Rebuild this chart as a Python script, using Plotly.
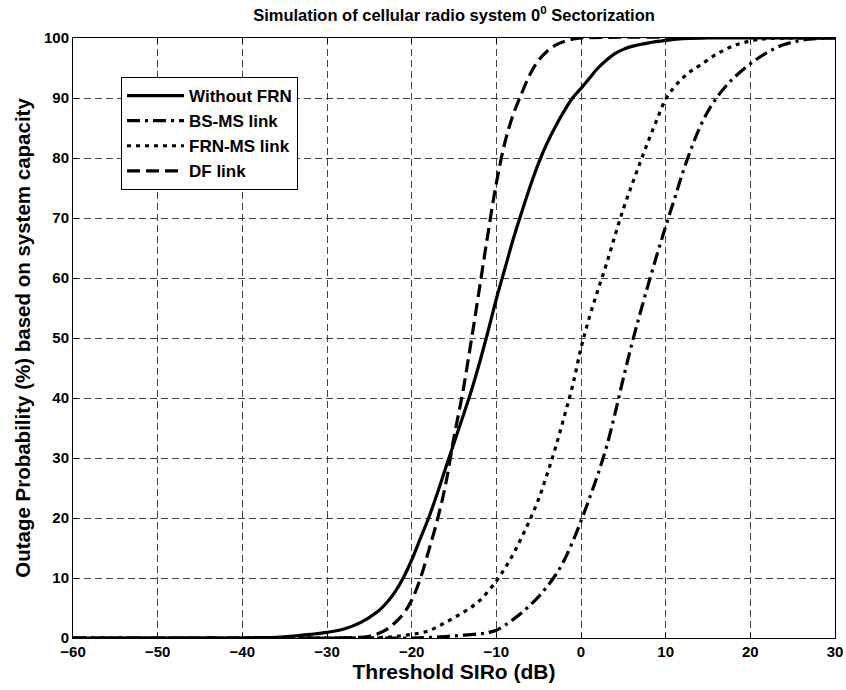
import plotly.graph_objects as go

# Threshold SIRo (dB) vs outage probability (%) for each link type
x_without_frn = [-60, -50, -40, -38, -36, -34, -32, -30, -28, -26, -24, -23, -22, -21, -20,
                 -19, -18, -17, -16, -15, -14, -13, -12, -11, -10, -9, -8, -7, -6, -5,
                 -4, -3, -2, -1, 0, 1, 2, 3, 4, 5, 6, 8, 10, 12, 15, 30]
y_without_frn = [0, 0, 0, 0.05, 0.1, 0.3, 0.6, 0.95, 1.5, 2.6, 4.4, 5.8, 7.6, 10, 13,
                 16.5, 20, 24, 28.3, 32.5, 36.7, 41, 45.8, 51, 56.5, 61.5, 66.5, 71, 75.3, 79.2,
                 82.5, 85.3, 87.8, 90, 91.6, 93.3, 95, 96.3, 97.4, 98.1, 98.6, 99.2, 99.6, 99.9, 100, 100]

x_bs_ms = [-60, -30, -20, -18, -16, -14, -12, -11, -10, -9, -8, -7, -6, -5, -4, -3, -2, -1,
           0, 1, 2, 3, 4, 5, 6, 7, 8, 9, 10, 11, 12, 13, 14, 15, 16, 17, 18, 20, 22, 24,
           26, 28, 30]
y_bs_ms = [0, 0, 0, 0.1, 0.25, 0.45, 0.7, 0.9, 1.3, 2.1, 3.1, 4.2, 5.5, 6.9, 8.6, 10.5, 12.9, 16,
           19.5, 23.3, 27.3, 31.8, 37.3, 43.3, 49, 54.2, 59.2, 64, 68.6, 73, 77.5, 81.5, 85, 87.8,
           90, 91.8, 93.3, 95.7, 97.6, 98.9, 99.6, 99.9, 100]

x_frn_ms = [-60, -30, -24, -22, -20, -18, -16, -14, -12, -10, -9, -8, -7, -6, -5, -4, -3,
            -2, -1, 0, 1, 2, 3, 4, 5, 6, 7, 8, 9, 10, 11, 12, 13, 14, 16, 18, 20, 22, 25, 30]
y_frn_ms = [0, 0, 0.05, 0.25, 0.6, 1.2, 2.6, 4.2, 6.2, 9.5, 11.6, 14, 16.8, 19.8, 23.2, 27.3, 31.8,
            36.8, 42, 48.3, 53.5, 58, 62.3, 67, 71.5, 75.5, 79.3, 83, 86.5, 89.8, 91.8, 93.3, 94.5,
            95.4, 97.3, 98.7, 99.5, 99.9, 100, 100]

x_df = [-60, -30, -27, -25, -24, -23, -22, -21, -20, -19, -18, -17, -16, -15, -14, -13,
        -12, -11, -10, -9, -8, -7, -6, -5, -4, -3, -2, -1, 0, 30]
y_df = [0, 0, 0.05, 0.3, 0.7, 1.4, 2.5, 4, 6.3, 9.8, 14.5, 19.5, 25.5, 33.5, 40.7, 49.2,
        58.2, 67.3, 75.8, 82.5, 87.3, 90.8, 94, 96.3, 97.8, 98.8, 99.4, 99.8, 100, 100]

x_ticks = [-60, -50, -40, -30, -20, -10, 0, 10, 20, 30]
y_ticks = [0, 10, 20, 30, 40, 50, 60, 70, 80, 90, 100]

series = [
    ("Without FRN", x_without_frn, y_without_frn, "solid"),
    ("BS-MS link", x_bs_ms, y_bs_ms, "13px,5px,3px,5px"),
    ("FRN-MS link", x_frn_ms, y_frn_ms, "4px,5px"),
    ("DF link", x_df, y_df, "13px,6px"),
]

FONT = "Liberation Sans, Arial, Helvetica, sans-serif"

fig = go.Figure()
for name, xs, ys, dash in series:
    fig.add_trace(go.Scatter(
        x=xs, y=ys, name=name, mode="lines", legendgroup=name,
        line=dict(color="black", width=3.2, dash=dash, shape="spline", smoothing=1.0),
    ))

axis_common = dict(
    showline=True, linecolor="black", linewidth=1, mirror="ticks",
    ticks="inside", ticklen=5, tickcolor="black",
    showgrid=True, gridcolor="#444444", gridwidth=1, griddash="7px,4px",
    zeroline=False, automargin=False,
    tickfont=dict(family=FONT, size=15, color="black", weight="bold"),
)

fig.update_xaxes(
    range=[-60, 30], tickvals=x_ticks,
    title=dict(text="Threshold SIRo (dB)", standoff=4,
               font=dict(family=FONT, size=21, color="black", weight="bold")),
    **axis_common,
)
fig.update_yaxes(
    range=[0, 100], tickvals=y_ticks,
    title=dict(text="Outage Probability (%) based on system capacity", standoff=7,
               font=dict(family=FONT, size=20.5, color="black", weight="bold")),
    **axis_common,
)

fig.update_layout(
    width=846, height=690,
    margin=dict(l=73, r=11, t=38, b=52),
    paper_bgcolor="white", plot_bgcolor="white",
    title=dict(
        text="Simulation of cellular radio system 0<sup>0</sup> Sectorization",
        x=0.5, xref="paper", xanchor="center",
        y=1 - 15 / 690, yref="container", yanchor="middle",
        font=dict(family=FONT, size=16.5, color="black", weight="bold"),
    ),
    legend=dict(
        x=0.063, y=0.935, xanchor="left", yanchor="top",
        bgcolor="white", bordercolor="black", borderwidth=1,
        font=dict(family=FONT, size=17, color="black", weight="bold"),
        tracegroupgap=0, itemwidth=57,
    ),
    showlegend=True,
)

fig.write_html("out.html")
